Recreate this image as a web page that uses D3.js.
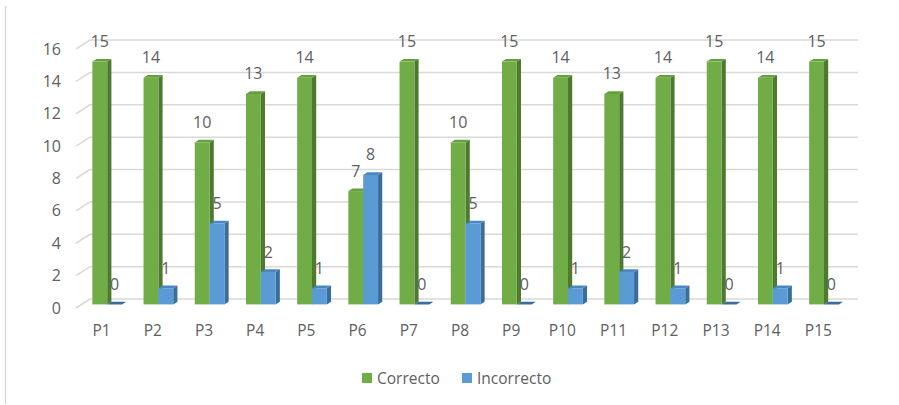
<!DOCTYPE html>
<html>
<head>
<meta charset="utf-8">
<script src="https://cdn.jsdelivr.net/npm/d3@7"></script>
<style>
  html, body { margin: 0; padding: 0; background: #fff; }
  svg text { font-family: "Open Sans", Lato, sans-serif; fill: #606060; }
</style>
</head>
<body>
<div id="vis"></div>
<script>
// chart data
var categories = ['P1','P2','P3','P4','P5','P6','P7','P8','P9','P10','P11','P12','P13','P14','P15'];
var seriesNames = ['Correcto', 'Incorrecto'];
var correcto = [15, 14, 10, 13, 14, 7, 15, 10, 15, 14, 13, 14, 15, 14, 15];
var incorrecto = [0, 1, 5, 2, 1, 8, 0, 5, 0, 1, 2, 1, 0, 1, 0];
var yTicks = [0, 2, 4, 6, 8, 10, 12, 14, 16];

var width = 899;
var height = 405;

// 3d look: full depth of the floor, bars sit in the middle of it
var depth = { dx: 14, dy: -9 };
var barFront = 0.4;
var barDepth = 0.3;

// colours per series: front, side, top
var colors = {
  Correcto:   { front: '#70AD47', side: '#4E7A30', top: '#64A03C' },
  Incorrecto: { front: '#5B9BD5', side: '#3A6D9C', top: '#4A86C0' }
};

var svg = d3.select('#vis').append('svg')
  .attr('width', width)
  .attr('height', height);

// chart area border on the left
svg.append('line')
  .attr('x1', 5.5).attr('x2', 5.5)
  .attr('y1', 6).attr('y2', 404)
  .attr('stroke', '#d9d9d9')
  .attr('stroke-width', 1.5);

// front plane scales
var x = d3.scaleBand()
  .domain(categories)
  .range([76, 844])
  .paddingInner(0.42)
  .paddingOuter(0.21);

var xInner = d3.scaleBand()
  .domain(seriesNames)
  .range([0, x.bandwidth()]);

var y = d3.scaleLinear()
  .domain([0, 16])
  .range([308, 49]);

// gridlines: diagonal on side wall + horizontal on back wall
var grid = svg.append('g').attr('class', 'grid');
yTicks.forEach(function (t) {
  var yy = y(t);
  grid.append('line')
    .attr('x1', 76).attr('y1', yy)
    .attr('x2', 76 + depth.dx).attr('y2', yy + depth.dy)
    .attr('stroke', '#d9d9d9').attr('stroke-width', 1.5);
  grid.append('line')
    .attr('x1', 76 + depth.dx).attr('y1', yy + depth.dy)
    .attr('x2', 844 + depth.dx).attr('y2', yy + depth.dy)
    .attr('stroke', '#d9d9d9').attr('stroke-width', 1.5);
});

// y axis labels
svg.append('g').selectAll('text')
  .data(yTicks)
  .enter().append('text')
  .attr('x', 61)
  .attr('y', function (d) { return y(d); })
  .attr('dy', '0.35em')
  .attr('text-anchor', 'end')
  .style('font-size', '16px')
  .text(function (d) { return d; });

// x axis labels
svg.append('g').selectAll('text')
  .data(categories)
  .enter().append('text')
  .attr('x', function (d) { return x(d) - x.paddingInner() * x.step() / 2 + x.step() / 2; })
  .attr('y', 336)
  .attr('text-anchor', 'middle')
  .style('font-size', '15.5px')
  .text(function (d) { return d; });

// build bar records
var bars = [];
categories.forEach(function (c, i) {
  bars.push({ cat: c, series: 'Correcto', value: correcto[i] });
  bars.push({ cat: c, series: 'Incorrecto', value: incorrecto[i] });
});

var ox = depth.dx * barFront, oy = depth.dy * barFront;
var bx = depth.dx * barDepth, by = depth.dy * barDepth;
var bw = xInner.bandwidth();

var barG = svg.append('g').selectAll('g')
  .data(bars)
  .enter().append('g')
  .attr('class', 'bar');

barG.each(function (d) {
  var g = d3.select(this);
  var x0 = x(d.cat) + xInner(d.series) + ox;
  var yTop = y(d.value) + oy;
  var yBot = y(0) + oy;
  var c = colors[d.series];

  // side face
  g.append('path')
    .attr('d', 'M' + (x0 + bw) + ',' + yTop +
      'L' + (x0 + bw + bx) + ',' + (yTop + by) +
      'L' + (x0 + bw + bx) + ',' + (yBot + by) +
      'L' + (x0 + bw) + ',' + yBot + 'Z')
    .attr('fill', c.side);

  // top face
  g.append('path')
    .attr('d', 'M' + x0 + ',' + yTop +
      'L' + (x0 + bx) + ',' + (yTop + by) +
      'L' + (x0 + bw + bx) + ',' + (yTop + by) +
      'L' + (x0 + bw) + ',' + yTop + 'Z')
    .attr('fill', d.value === 0 ? c.side : c.top);

  // front face
  if (d.value > 0) {
    g.append('rect')
      .attr('x', x0)
      .attr('y', yTop)
      .attr('width', bw)
      .attr('height', yBot - yTop)
      .attr('fill', c.front);
  }

  // value label
  g.append('text')
    .attr('x', x0 + bw / 2)
    .attr('y', yTop - 14.5)
    .attr('text-anchor', 'middle')
    .style('font-size', '16px')
    .text(d.value);
});

// legend
var legend = svg.append('g').attr('class', 'legend');
var legendX = [362, 462];
seriesNames.forEach(function (s, i) {
  legend.append('rect')
    .attr('x', legendX[i])
    .attr('y', 373)
    .attr('width', 10)
    .attr('height', 10)
    .attr('fill', colors[s].front);
  legend.append('text')
    .attr('x', legendX[i] + 15)
    .attr('y', 384)
    .style('font-size', '15.5px')
    .text(s);
});
</script>
</body>
</html>
